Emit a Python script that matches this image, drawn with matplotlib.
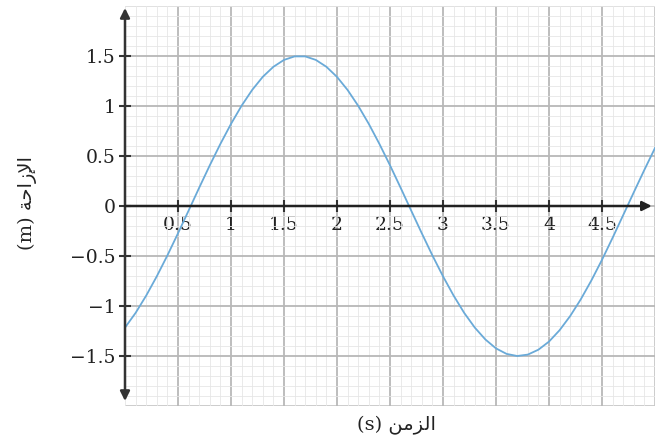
import matplotlib
matplotlib.use('Agg')
import matplotlib.pyplot as plt
from matplotlib.ticker import MultipleLocator

# time (s) and displacement (m), every 0.1 s
t = [0.0, 0.1, 0.2, 0.3, 0.4, 0.5, 0.6, 0.7, 0.8, 0.9,
     1.0, 1.1, 1.2, 1.3, 1.4, 1.5, 1.6, 1.7, 1.8, 1.9,
     2.0, 2.1, 2.2, 2.3, 2.4, 2.5, 2.6, 2.7, 2.8, 2.9,
     3.0, 3.1, 3.2, 3.3, 3.4, 3.5, 3.6, 3.7, 3.8, 3.9,
     4.0, 4.1, 4.2, 4.3, 4.4, 4.5, 4.6, 4.7, 4.8, 4.9, 5.0]
x = [-1.216, -1.069, -0.896, -0.703, -0.494, -0.273, -0.046, 0.183, 0.407, 0.621,
     0.821, 1.003, 1.161, 1.292, 1.392, 1.461, 1.496, 1.496, 1.461, 1.392,
     1.291, 1.160, 1.002, 0.821, 0.621, 0.407, 0.183, -0.046, -0.273, -0.494,
     -0.703, -0.896, -1.069, -1.216, -1.335, -1.424, -1.479, -1.500, -1.486, -1.437,
     -1.356, -1.242, -1.100, -0.933, -0.744, -0.538, -0.318, -0.091, 0.137, 0.362, 0.580]

xticks = [0.5, 1, 1.5, 2, 2.5, 3, 3.5, 4, 4.5]
xtick_labels = ['0.5', '1', '1.5', '2', '2.5', '3', '3.5', '4', '4.5']
yticks = [-1.5, -1, -0.5, 0, 0.5, 1, 1.5]
ytick_labels = ['\u22121.5', '\u22121', '\u22120.5', '0', '0.5', '1', '1.5']

# arabic labels in visual order (presentation forms, no shaping in matplotlib)
xlabel = '(s) \uFEE6\uFEE3\uFEB0\uFEDF\uFE8D'          # الزمن
ylabel = '(m) \uFE94\uFEA3\uFE8D\uFEAF\uFEF9\uFE8D'    # الإزاحة

fonts = ['DejaVu Serif', 'DejaVu Sans']

fig = plt.figure(figsize=(6.62, 4.47), dpi=100)
ax = fig.add_axes([125 / 662, 41 / 447, 530 / 662, 400 / 447])
ax.set_xlim(0, 5)
ax.set_ylim(-2, 2)

# graph paper
ax.xaxis.set_minor_locator(MultipleLocator(0.1))
ax.yaxis.set_minor_locator(MultipleLocator(0.1))
ax.grid(which='minor', color='#e6e6e6', lw=0.6)
ax.grid(which='major', color='#b8b8b8', lw=1.3)
ax.axvline(5, color='#c8c8c8', lw=1.3, zorder=0.5)
for v in [-2, 2]:
    ax.axhline(v, color='#c8c8c8', lw=1.3, zorder=0.5)
ax.set_axisbelow(True)

ax.plot(t, x, color='#6aaad8', lw=1.3, zorder=3)

# axes through the origin
for s in ['top', 'right', 'left', 'bottom']:
    ax.spines[s].set_visible(False)
ax.spines['left'].set_position(('data', 0))
ax.spines['bottom'].set_position(('data', 0))
ax.annotate('', xy=(0, 1.98), xytext=(0, -1.95),
            arrowprops=dict(arrowstyle='<|-|>', color='#333333', lw=1.8,
                            mutation_scale=14, shrinkA=0, shrinkB=0), zorder=4)
ax.annotate('', xy=(4.97, 0), xytext=(0, 0),
            arrowprops=dict(arrowstyle='-|>', color='#222222', lw=1.8,
                            mutation_scale=14, shrinkA=0, shrinkB=0), zorder=4)

ax.set_xticks(xticks)
ax.set_xticklabels(xtick_labels)
ax.set_yticks(yticks)
ax.set_yticklabels(ytick_labels)
ax.tick_params(which='major', direction='inout', length=8, width=1.5,
               color='#333333', labelsize=13.5, labelcolor='#222222')
ax.tick_params(axis='x', pad=3)
ax.tick_params(axis='y', pad=3)
ax.tick_params(which='minor', length=0)
for lab in ax.get_xticklabels() + ax.get_yticklabels():
    lab.set_family('DejaVu Serif')

fig.text(397 / 662, 1 - 425 / 447, xlabel, family=fonts, fontsize=14,
         ha='center', va='center', color='#222222')
fig.text(27 / 662, 1 - 203 / 447, ylabel, family=fonts, fontsize=14,
         ha='center', va='center', rotation=90, color='#222222')

fig.savefig('out.png', dpi=100)
